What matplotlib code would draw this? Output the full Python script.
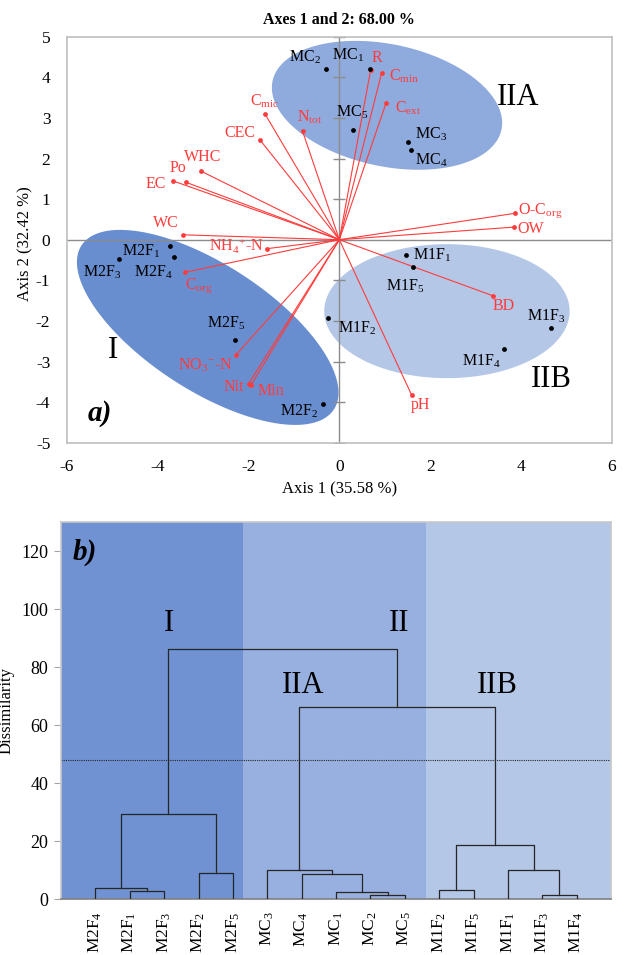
import numpy as np
import matplotlib
matplotlib.use("Agg")
import matplotlib.pyplot as plt

plt.rcParams['font.family'] = ['Liberation Serif', 'DejaVu Serif']
plt.rcParams['mathtext.fontset'] = 'custom'
plt.rcParams['mathtext.rm'] = 'Liberation Serif'
plt.rcParams['mathtext.it'] = 'Liberation Serif:italic'
plt.rcParams['mathtext.bf'] = 'Liberation Serif:bold'
plt.rcParams['axes.unicode_minus'] = False

# ---------------- PCA data (panel a) ----------------
obs_names = ['MC1', 'MC2', 'MC3', 'MC4', 'MC5',
             'M2F1', 'M2F2', 'M2F3', 'M2F4', 'M2F5',
             'M1F1', 'M1F2', 'M1F3', 'M1F4', 'M1F5']
obs_labels = [r'MC$_{\mathrm{1}}$', r'MC$_{\mathrm{2}}$', r'MC$_{\mathrm{3}}$', r'MC$_{\mathrm{4}}$', r'MC$_{\mathrm{5}}$',
              r'M2F$_{\mathrm{1}}$', r'M2F$_{\mathrm{2}}$', r'M2F$_{\mathrm{3}}$', r'M2F$_{\mathrm{4}}$', r'M2F$_{\mathrm{5}}$',
              r'M1F$_{\mathrm{1}}$', r'M1F$_{\mathrm{2}}$', r'M1F$_{\mathrm{3}}$', r'M1F$_{\mathrm{4}}$', r'M1F$_{\mathrm{5}}$']
obs_x = [0.67, -0.29, 1.52, 1.58, 0.29,
         -3.74, -0.37, -4.86, -3.64, -2.29,
         1.47, -0.26, 4.66, 3.62, 1.62]
obs_y = [4.20, 4.20, 2.41, 2.21, 2.69,
         -0.15, -4.05, -0.48, -0.43, -2.47,
         -0.38, -1.92, -2.17, -2.70, -0.68]

var_labels = ['R', r'C$_{\mathrm{min}}$', r'C$_{\mathrm{ext}}$', r'O-C$_{\mathrm{org}}$', 'OW',
              r'C$_{\mathrm{mic}}$', r'N$_{\mathrm{tot}}$', 'CEC', 'WHC', 'Po', 'EC', 'WC',
              r'NH$_{\mathrm{4}}$$^{+}$-N', r'C$_{\mathrm{org}}$', r'NO$_{\mathrm{3}}$$^{-}$-N',
              'Nit', 'Min', 'pH', 'BD']
var_x = [0.69, 0.93, 1.03, 3.87, 3.85,
         -1.64, -0.81, -1.75, -3.05, -3.37, -3.67, -3.44,
         -1.59, -3.39, -2.28,
         -2.00, -1.94, 1.59, 3.38]
var_y = [4.18, 4.10, 3.37, 0.65, 0.31,
         3.10, 2.67, 2.46, 1.69, 1.41, 1.45, 0.12,
         -0.22, -0.80, -2.84,
         -3.55, -3.57, -3.82, -1.38]

# ---------------- Dendrogram data (panel b) ----------------
leaf_names = ['M2F4', 'M2F1', 'M2F3', 'M2F2', 'M2F5', 'MC3', 'MC4', 'MC1', 'MC2', 'MC5',
              'M1F2', 'M1F5', 'M1F1', 'M1F3', 'M1F4']
leaf_labels = [r'M2F$_{\mathrm{4}}$', r'M2F$_{\mathrm{1}}$', r'M2F$_{\mathrm{3}}$', r'M2F$_{\mathrm{2}}$', r'M2F$_{\mathrm{5}}$',
               r'MC$_{\mathrm{3}}$', r'MC$_{\mathrm{4}}$', r'MC$_{\mathrm{1}}$', r'MC$_{\mathrm{2}}$', r'MC$_{\mathrm{5}}$',
               r'M1F$_{\mathrm{2}}$', r'M1F$_{\mathrm{5}}$', r'M1F$_{\mathrm{1}}$', r'M1F$_{\mathrm{3}}$', r'M1F$_{\mathrm{4}}$']
merge_a = ['M2F1', 'M2F4', 'M2F2', 'n1', 'MC2', 'MC1', 'MC4', 'MC3', 'M1F3', 'M1F2', 'M1F1', 'n9', 'n7', 'n3']
merge_b = ['M2F3', 'n0', 'M2F5', 'n2', 'MC5', 'n4', 'n5', 'n6', 'M1F4', 'M1F5', 'n8', 'n10', 'n11', 'n12']
merge_h = [2.9, 3.7, 9.1, 29.2, 1.4, 2.5, 8.5, 10.0, 1.5, 3.1, 10.0, 18.8, 66.3, 86.4]
cut_level = 47.8
group_bounds = [0.0, 5.3, 10.62, 16.0]

# ---------------- figure ----------------
W, H = 625, 955
fig = plt.figure(figsize=(W / 100, H / 100), dpi=100)

axL, axR, axT, axB = 67, 611.7, 36.7, 442.7
ax = fig.add_axes([axL / W, 1 - axB / H, (axR - axL) / W, (axB - axT) / H])
ax.set_xlim(-6, 6)
ax.set_ylim(-5, 5)
sx = (axR - axL) / 12.0
sy = (axB - axT) / 10.0
PX = 0.72  # px -> points


def ellipse(cx, cy, a, b, ang, color):
    t = np.linspace(0, 2 * np.pi, 300)
    r = np.deg2rad(ang)
    u, v = a * np.cos(t), b * np.sin(t)
    X = u * np.cos(r) - v * np.sin(r)
    Y = u * np.sin(r) + v * np.cos(r)
    ax.fill(cx + X / sx, cy + Y / sy, color=color, lw=0, zorder=1)


ellipse(-2.90, -2.16, 150.5, 63, -33, '#698ed0')
ellipse(1.05, 3.31, 117, 61, -12, '#8faadc')
ellipse(2.37, -1.76, 122.7, 67, 0, '#b4c7e7')

for s in ax.spines.values():
    s.set_color('#bfbfbf')
    s.set_linewidth(1.2)
ax.axhline(0, color='#8c8c8c', lw=1.0, zorder=2)
ax.axvline(0, color='#8c8c8c', lw=1.0, zorder=2)
ax.plot(np.zeros(11), np.arange(-5, 6), ls='none', marker='_', ms=8, mew=1.0, color='#8c8c8c', zorder=2)

ax.set_xticks(np.arange(-6, 7, 2))
ax.set_yticks(np.arange(-5, 6, 1))
ax.tick_params(length=0, labelsize=12.5, pad=12)
ax.set_xlabel('Axis 1 (35.58 %)', fontsize=12, labelpad=4)
ax.set_ylabel('Axis 2 (32.42 %)', fontsize=12)
ax.yaxis.set_label_coords(-0.062, 0.49)
ax.set_title('Axes 1 and 2: 68.00 %', fontsize=11.5, fontweight='bold', pad=9)

red = '#ff3b3b'
for x, y in zip(var_x, var_y):
    ax.plot([0, x], [0, y], color=red, lw=0.8, zorder=3)
ax.scatter(var_x, var_y, s=12, color=red, zorder=4, lw=0)

var_off = [(6, 12), (22, -3), (22, -5), (3, 3, 'left'), (3, -2, 'left'),
           (0, 13), (7, 14), (-20, 7), (2, 14), (-8, 14), (-17, -3), (-17, 12),
           (-4, 3, 'right'), (13, -14), (-31, -10),
           (-15, -3), (20, -6), (9, -10), (11, -10)]
for lab, x, y, off in zip(var_labels, var_x, var_y, var_off):
    ha = off[2] if len(off) > 2 else 'center'
    ax.annotate(lab, (x, y), xytext=(off[0] * PX, off[1] * PX), textcoords='offset points',
                ha=ha, va='center', color=red, fontsize=11.5, zorder=5)

ax.scatter(obs_x, obs_y, s=12, color='black', zorder=5, lw=0)
obs_off = [(-22, 14), (-21, 12), (23, 8), (20, -10), (0, 18),
           (-28, -6), (-23, -7), (-17, -13), (-21, -15), (-9, 17),
           (26, 0), (30, -11), (-5, 12), (-22, -12), (-8, -19)]
for lab, x, y, off in zip(obs_labels, obs_x, obs_y, obs_off):
    ax.annotate(lab, (x, y), xytext=(off[0] * PX, off[1] * PX), textcoords='offset points',
                ha='center', va='center', color='black', fontsize=11.5, zorder=6)

ax.text(3.94, 3.51, 'IIA', fontsize=22, ha='center', va='center')
ax.text(4.68, -3.45, 'IIB', fontsize=22, ha='center', va='center')
ax.text(-4.98, -2.72, 'I', fontsize=22, ha='center', va='center')
ax.text(-5.27, -4.27, 'a)', fontsize=21, fontweight='bold', fontstyle='italic', ha='center', va='center')

# ---------------- panel b ----------------
bL, bR, bT, bB = 61, 611, 522.3, 899
bx = fig.add_axes([bL / W, 1 - bB / H, (bR - bL) / W, (bB - bT) / H])
bx.set_xlim(0, 16)
bx.set_ylim(0, 130)
bg = ['#7092d2', '#98b0df', '#b4c7e7']
for i in range(3):
    bx.axvspan(group_bounds[i], group_bounds[i + 1], color=bg[i], lw=0, zorder=0)

pos = {n: i + 1 for i, n in enumerate(leaf_names)}
hgt = {n: 0.0 for n in leaf_names}
for k, (a, b, h) in enumerate(zip(merge_a, merge_b, merge_h)):
    xa, xb = pos[a], pos[b]
    bx.plot([xa, xa, xb, xb], [hgt[a], h, h, hgt[b]], color='#262626', lw=0.9, zorder=3)
    pos['n%d' % k] = (xa + xb) / 2
    hgt['n%d' % k] = h

bx.axhline(cut_level, color='#262626', lw=0.8, ls=(0, (1, 1)), zorder=2)

bx.set_xticks(np.arange(1, 16))
bx.set_xticklabels(leaf_labels, rotation=90, fontsize=12.5, va='top')
bx.tick_params(axis='x', length=0, pad=9)
bx.set_yticks(np.arange(0, 121, 20))
bx.tick_params(axis='y', length=5, color='#a6a6a6', labelsize=13, pad=4)
bx.set_ylabel('Dissimilarity', fontsize=12)
bx.yaxis.set_label_coords(-0.085, 0.5)
for s in ['top', 'right', 'left']:
    bx.spines[s].set_color('#c8c8c8')
    bx.spines[s].set_linewidth(1.2)
bx.spines['bottom'].set_color('#7f7f7f')
bx.spines['bottom'].set_linewidth(1.2)

bx.text(3.14, 95, 'I', fontsize=22, ha='center', va='center')
bx.text(9.84, 95, 'II', fontsize=22, ha='center', va='center')
bx.text(7.05, 73.8, 'IIA', fontsize=22, ha='center', va='center')
bx.text(12.7, 73.8, 'IIB', fontsize=22, ha='center', va='center')
bx.text(0.7, 119.6, 'b)', fontsize=21, fontweight='bold', fontstyle='italic', ha='center', va='center')

fig.savefig('out.png', dpi=100)
